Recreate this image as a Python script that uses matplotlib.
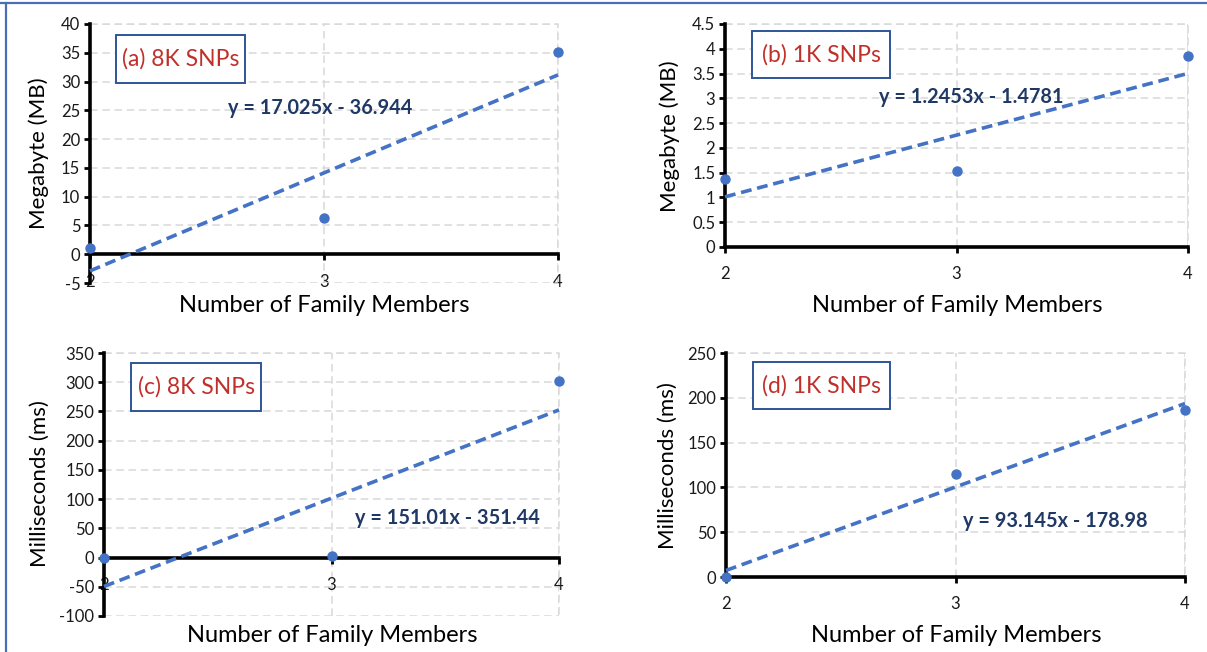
import matplotlib.pyplot as plt
from matplotlib.patches import Rectangle
from matplotlib.lines import Line2D

# Family size vs. storage / runtime, with linear trend lines
members = [2, 3, 4]

mb_8k = [1.0, 6.3, 35.05]
mb_1k = [1.37, 1.54, 3.86]
ms_8k = [0.0, 2.75, 302.02]
ms_1k = [0.0, 115.1, 186.3]

# trend line coefficients (slope, intercept)
fit_mb_8k = (17.025, -36.944)
fit_mb_1k = (1.2453, -1.4781)
fit_ms_8k = (151.01, -351.44)
fit_ms_1k = (93.145, -178.98)

W, H = 1207, 652
BLUE = '#4472C4'
RED = '#C0302B'
NAVY = '#1F3864'
FONT = 'Lato'

plt.rcParams['font.family'] = [FONT, 'DejaVu Sans']

fig = plt.figure(figsize=(W / 100, H / 100), dpi=100)


def fx(x):
    return x / W


def fy(y):
    return 1 - y / H


def panel(box, ys, fit, ylim, ystep, ylabel, ylab_xy, xlab_xy,
          tag, tag_box, eq_xy):
    l, t, r, b = box
    ax = fig.add_axes([fx(l), fy(b), fx(r - l), fy(t) - fy(b)])
    ax.set_xlim(2, 4)
    ax.set_ylim(*ylim)
    yt = []
    v = ylim[0]
    while v <= ylim[1] + 1e-9:
        yt.append(round(v, 3))
        v += ystep
    ax.set_yticks(yt)
    ax.set_yticklabels([('%g' % v) for v in yt])
    ax.set_xticks(members)

    ax.grid(True, color='#D9D9D9', linestyle=(0, (5, 3)), linewidth=1.1)
    ax.set_axisbelow(True)
    for s in ('top', 'right'):
        ax.spines[s].set_visible(False)
    ax.spines['left'].set_linewidth(2.6)
    ax.spines['bottom'].set_linewidth(2.6)
    ax.spines['bottom'].set_position(('data', 0))
    # dashed border on the top and right
    ax.plot([2, 4, 4], [ylim[1], ylim[1], ylim[0]], color='#D9D9D9',
            linestyle=(0, (5, 3)), linewidth=1.1, zorder=0, clip_on=False)

    ax.tick_params(axis='both', direction='out', length=4, width=2,
                   colors='black', labelcolor='#1a1a1a', labelsize=12)
    ax.tick_params(axis='x', pad=10)
    ax.tick_params(axis='y', pad=3)

    slope, icpt = fit
    xs = [2, 4]
    ax.plot(xs, [slope * x + icpt for x in xs], color=BLUE, linewidth=2.6,
            linestyle=(0, (3, 1.6)), zorder=3, clip_on=False)
    ax.plot(members, ys, 'o', color=BLUE, markersize=6.5, zorder=4,
            clip_on=False)

    fig.text(fx(ylab_xy[0]), fy(ylab_xy[1]), ylabel, rotation=90,
             ha='center', va='center', fontsize=16, color='black')
    fig.text(fx(xlab_xy[0]), fy(xlab_xy[1]), 'Number of Family Members',
             ha='center', va='center', fontsize=17, color='black')

    bl, bt, br, bb = tag_box
    fig.add_artist(Rectangle((fx(bl), fy(bb)), fx(br - bl), fy(bt) - fy(bb),
                             transform=fig.transFigure, facecolor='white',
                             edgecolor='#2F5597', linewidth=1.4, zorder=5))
    fig.text(fx((bl + br) / 2), fy((bt + bb) / 2), tag, ha='center',
             va='center', fontsize=16.5, color=RED, zorder=6)

    sign = '-' if icpt < 0 else '+'
    eq = 'y = %sx %s %s' % (('%g' % slope), sign, ('%g' % abs(icpt)))
    fig.text(fx(eq_xy[0]), fy(eq_xy[1]), eq, ha='center', va='center',
             fontsize=14.3, fontweight='bold', color=NAVY)
    return ax


panel((90, 24, 558, 283), mb_8k, fit_mb_8k, (-5, 40), 5, 'Megabyte (MB)',
      (39, 153), (324, 305), '(a) 8K SNPs', (116, 35, 245, 83), (320, 108))
panel((725, 24, 1188, 247), mb_1k, fit_mb_1k, (0, 4.5), 0.5, 'Megabyte (MB)',
      (670, 136), (957, 305), '(b) 1K SNPs', (752, 31, 890, 78), (971, 97))
panel((104, 353, 559, 616), ms_8k, fit_ms_8k, (-100, 350), 50,
      'Milliseconds (ms)', (40, 484), (332, 635), '(c) 8K SNPs',
      (131, 363, 261, 411), (447, 518))
panel((726, 353, 1185, 577), ms_1k, fit_ms_1k, (0, 250), 50,
      'Milliseconds (ms)', (668, 466), (956, 635), '(d) 1K SNPs',
      (753, 362, 890, 409), (1055, 521))

# frame lines along the top and left edge
fig.add_artist(Line2D([0, 1], [fy(3), fy(3)], transform=fig.transFigure,
                      color='#4A6FB5', linewidth=1.6))
fig.add_artist(Line2D([fx(6), fx(6)], [0, fy(3)], transform=fig.transFigure,
                      color='#4A6FB5', linewidth=1.6))

fig.savefig('out.png', dpi=100)
